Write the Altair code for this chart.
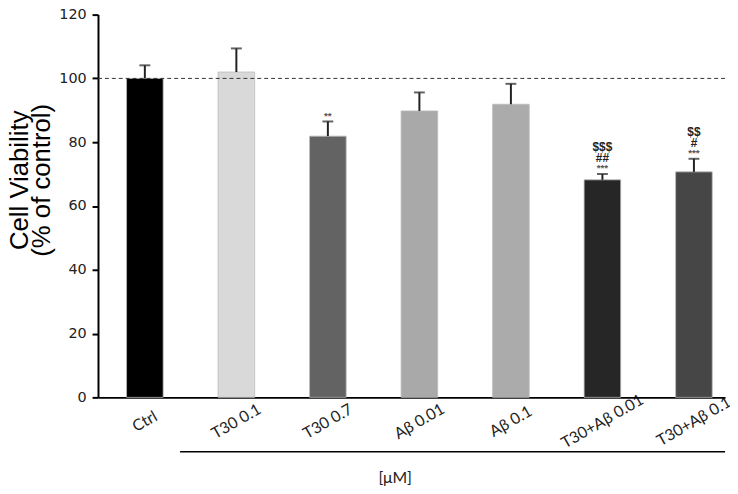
import altair as alt
import pandas as pd

categories = ["Ctrl", "T30 0.1", "T30 0.7", "Aβ 0.01", "Aβ 0.1", "T30+Aβ 0.01", "T30+Aβ 0.1"]
means = [100.0, 102.0, 81.9, 89.8, 91.9, 68.2, 70.7]
errors = [4.1, 7.4, 4.6, 5.8, 6.4, 1.8, 4.1]
bar_colors = ["#000000", "#d9d9d9", "#636363", "#a9a9a9", "#ababab", "#262626", "#464646"]
stars = ["", "", "**", "", "", "***", "***"]
hashes = ["", "", "", "", "", "##", "#"]
dollars = ["", "", "", "", "", "$$$", "$$"]
y_ticks = [0, 20, 40, 60, 80, 100, 120]
reference_value = [100]

df = pd.DataFrame({
    "cat": categories,
    "mean": means,
    "err": errors,
    "upper": [m + e for m, e in zip(means, errors)],
    "stars": stars,
    "hashes": hashes,
    "dollars": dollars,
})

W, H = 634, 387

x_enc = alt.X(
    "cat:N",
    sort=categories,
    scale=alt.Scale(paddingInner=0.6, paddingOuter=0.226, align=0.69),
    axis=alt.Axis(
        title="[μM]",
        titleFont="Lato",
        titleFontSize=16,
        titleFontWeight="normal",
        titleColor="#222",
        titleX=300,
        titleY=73,
        labelFont="Lato",
        labelFontSize=16,
        labelColor="#222",
        labelAngle=-30,
        labelAlign="center",
        labelBaseline="middle",
        labelPadding=24,
        ticks=False,
        domainColor="#000",
        domainWidth=2,
        grid=False,
    ),
)

y_scale = alt.Scale(domain=[0, 120], nice=False)

bars = alt.Chart(df).mark_bar(stroke="#bbbbbb", strokeWidth=0.8).encode(
    x=x_enc,
    y=alt.Y(
        "mean:Q",
        scale=y_scale,
        axis=alt.Axis(
            values=y_ticks,
            title=["Cell Viability", "(% of control)"],
            titleFont="Liberation Sans",
            titleFontSize=26,
            titleFontWeight="normal",
            titleColor="#000",
            titleLineHeight=22,
            titleAngle=-90,
            titleBaseline="bottom",
            titleX=-66,
            titleY=167,
            labelFont="DejaVu Sans",
            labelFontSize=14.5,
            labelColor="#222",
            labelPadding=6,
            tickSize=6,
            tickColor="#000",
            tickWidth=2,
            domainColor="#000",
            domainWidth=2,
            grid=False,
        ),
    ),
    color=alt.Color("cat:N", scale=alt.Scale(domain=categories, range=bar_colors), legend=None),
)

err_rule = alt.Chart(df).mark_rule(color="#222", strokeWidth=2).encode(
    x=alt.X("cat:N", sort=categories),
    y=alt.Y("mean:Q", scale=y_scale),
    y2="upper:Q",
)

err_cap = alt.Chart(df).mark_tick(color="#222", thickness=2, size=11).encode(
    x=alt.X("cat:N", sort=categories),
    y=alt.Y("upper:Q", scale=y_scale),
)

def ann_layer(field, dy, size, color):
    return alt.Chart(df).mark_text(
        font="Liberation Sans", fontSize=size, fontWeight="bold", color=color,
        baseline="middle", dy=dy,
    ).encode(
        x=alt.X("cat:N", sort=categories),
        y=alt.Y("upper:Q", scale=y_scale),
        text=f"{field}:N",
    )

star_layer = ann_layer("stars", -6, 10, "#555")
hash_layer = ann_layer("hashes", -16, 12, "#222")
dollar_layer = ann_layer("dollars", -27, 12, "#222")

ref = alt.Chart(pd.DataFrame({"v": reference_value})).mark_rule(
    color="#333", strokeWidth=1, strokeDash=[4, 3]
).encode(y=alt.Y("v:Q", scale=y_scale))

bracket = alt.Chart(pd.DataFrame({"v": reference_value})).mark_rule(
    color="#000", strokeWidth=1.5
).encode(x=alt.value(83), x2=alt.value(634), y=alt.value(442))

chart = alt.layer(
    bars, ref, err_rule, err_cap, star_layer, hash_layer, dollar_layer, bracket
).properties(
    width=W, height=H,
    autosize=alt.AutoSizeParams(type="none"),
    padding={"left": 91, "top": 4, "right": 5, "bottom": 94},
).configure(background="white").configure_view(stroke=None).configure_axis(grid=False)

chart.save("out.html", embed_options={"renderer": "svg", "actions": False})
